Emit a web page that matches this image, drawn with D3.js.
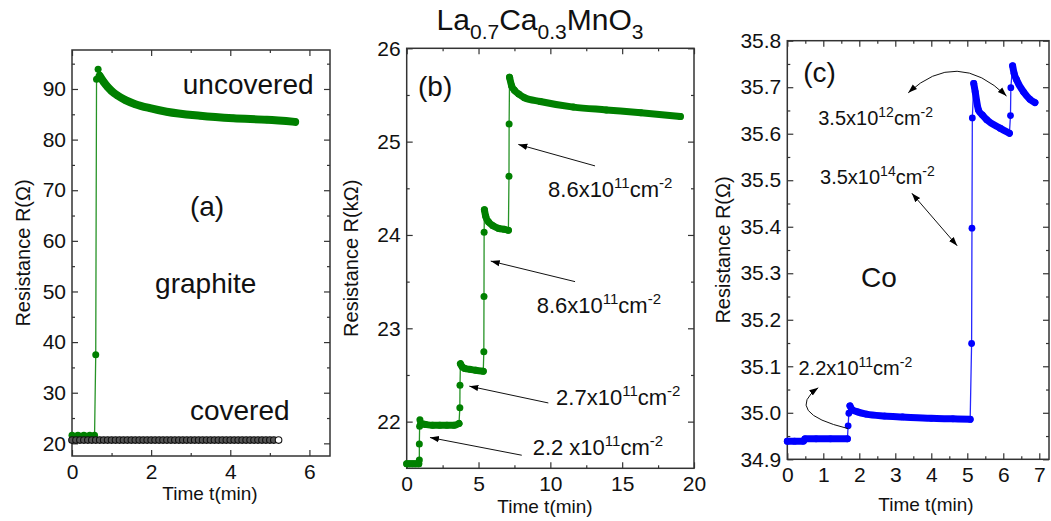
<!DOCTYPE html>
<html>
<head>
<meta charset="utf-8">
<script src="https://cdn.jsdelivr.net/npm/d3@7"></script>
<style>
body { margin:0; background:#fff; }
svg text { font-family: "Liberation Sans", Arial, sans-serif; }
</style>
</head>
<body>
<div class="canvas"></div>
<script>
// ---- Data (a) graphite ----
const aBaseT  = [0, 0.15, 0.3, 0.45, 0.57];
const aBaseR  = [21.6, 21.6, 21.6, 21.6, 21.6];
const aJumpT  = [0.6, 0.62, 0.66];
const aJumpR  = [37.5, 91.9, 93.9];
const aDecayT = [0.7, 0.8, 0.9, 1.0, 1.15, 1.35, 1.6, 1.97, 2.39, 3.24, 4.08, 4.92, 5.64];
const aDecayR = [92.6, 91.4, 90.4, 89.6, 88.7, 87.8, 87.0, 86.2, 85.5, 84.7, 84.2, 83.9, 83.5];
const aCovT = [0, 0.1, 0.2, 0.3, 0.4, 0.5, 0.6, 0.7, 0.8, 0.9, 1.0, 1.1, 1.2, 1.3, 1.4, 1.5, 1.6, 1.7,
  1.8, 1.9, 2.0, 2.1, 2.2, 2.3, 2.4, 2.5, 2.6, 2.7, 2.8, 2.9, 3.0, 3.1, 3.2, 3.3, 3.4, 3.5, 3.6,
  3.7, 3.8, 3.9, 4.0, 4.1, 4.2, 4.3, 4.4, 4.5, 4.6, 4.7, 4.8, 4.9, 5.0, 5.1, 5.22];
const aCovR = [20.65, 20.65, 20.65, 20.65, 20.65, 20.65, 20.65, 20.65, 20.65, 20.65, 20.65, 20.65,
  20.65, 20.65, 20.65, 20.65, 20.65, 20.65, 20.65, 20.65, 20.65, 20.65, 20.65, 20.65, 20.65, 20.65,
  20.65, 20.65, 20.65, 20.65, 20.65, 20.65, 20.65, 20.65, 20.65, 20.65, 20.65, 20.65, 20.65, 20.65,
  20.65, 20.65, 20.65, 20.65, 20.65, 20.65, 20.65, 20.65, 20.65, 20.65, 20.65, 20.65, 20.65];

// ---- Data (b) La0.7Ca0.3MnO3 ----
const bBaseT  = [0, 0.2, 0.4, 0.6, 0.84];
const bBaseR  = [21.55, 21.55, 21.55, 21.55, 21.55];
const bJump1T = [0.88, 0.88, 0.9, 0.92];
const bJump1R = [21.59, 21.76, 21.95, 22.02];
const bStep1T = [0.98, 1.3, 1.8, 2.3, 2.8, 3.3, 3.64];
const bStep1R = [21.98, 21.97, 21.96, 21.96, 21.96, 21.96, 21.98];
const bJump2T = [3.7, 3.71];
const bJump2R = [22.15, 22.39];
const bStep2T = [3.74, 3.85, 4.05, 4.4, 4.8, 5.33];
const bStep2R = [22.62, 22.59, 22.57, 22.56, 22.55, 22.54];
const bJump3T = [5.37, 5.38, 5.39];
const bJump3R = [22.75, 23.34, 24.03];
const bStep3T = [5.41, 5.5, 5.7, 6.0, 6.4, 6.8, 7.08];
const bStep3R = [24.27, 24.2, 24.14, 24.1, 24.07, 24.06, 24.05];
const bJump4T = [7.12, 7.13];
const bJump4R = [24.63, 25.19];
const bStep4T = [7.16, 7.3, 7.5, 7.8, 8.2, 9.3, 11.6, 13.9, 16.3, 19.05];
const bStep4R = [25.69, 25.6, 25.55, 25.51, 25.47, 25.43, 25.37, 25.34, 25.31, 25.27];

// ---- Data (c) Co ----
const cBaseT  = [0, 0.2, 0.45, 0.49, 0.8, 1.2, 1.67];
const cBaseR  = [34.939, 34.939, 34.939, 34.944, 34.944, 34.944, 34.944];
const cJump1T = [1.69, 1.71];
const cJump1R = [34.972, 34.999];
const cStep1T = [1.74, 1.8, 1.95, 2.2, 2.7, 3.2, 4.0, 4.6, 5.08];
const cStep1R = [35.015, 35.007, 35.002, 34.997, 34.993, 34.991, 34.988, 34.987, 34.986];
const cJump2T = [5.12, 5.13, 5.14];
const cJump2R = [35.149, 35.397, 35.634];
const cStep2T = [5.18, 5.22, 5.31, 5.42, 5.54, 5.91, 6.17];
const cStep2R = [35.708, 35.69, 35.651, 35.64, 35.63, 35.612, 35.601];
const cJump3T = [6.2, 6.21];
const cJump3R = [35.639, 35.699];
const cStep3T = [6.26, 6.3, 6.37, 6.56, 6.74, 6.88];
const cStep3R = [35.746, 35.73, 35.716, 35.69, 35.674, 35.667];

// ---- Ticks ----
const aXTicks = [0, 2, 4, 6],  aXMinor = [1, 3, 5];
const aYTicks = [20, 30, 40, 50, 60, 70, 80, 90], aYMinor = [25, 35, 45, 55, 65, 75, 85, 95];
const bXTicks = [0, 5, 10, 15, 20], bXMinor = [2.5, 7.5, 12.5, 17.5];
const bYTicks = [22, 23, 24, 25, 26], bYMinor = [22.5, 23.5, 24.5, 25.5];
const cXTicks = [0, 1, 2, 3, 4, 5, 6, 7], cXMinor = [0.5, 1.5, 2.5, 3.5, 4.5, 5.5, 6.5];
const cYTicks = [34.9, 35.0, 35.1, 35.2, 35.3, 35.4, 35.5, 35.6, 35.7, 35.8];
const cYMinor = [34.95, 35.05, 35.15, 35.25, 35.35, 35.45, 35.55, 35.65, 35.75];

const GREEN = '#008000';
const BLUE = '#0000ff';

const svg = d3.select('.canvas')
    .append('svg')
    .attr('width', 1051)
    .attr('height', 521);

svg.append('rect').attr('width', 1051).attr('height', 521).attr('fill', '#fff');

// arrow head
svg.append('defs').append('marker')
    .attr('id', 'arrow')
    .attr('viewBox', '0 0 10 10')
    .attr('refX', 10).attr('refY', 5)
    .attr('markerWidth', 9).attr('markerHeight', 9)
    .attr('markerUnits', 'userSpaceOnUse')
    .attr('orient', 'auto-start-reverse')
    .append('path')
    .attr('d', 'M0,1.5 L10,5 L0,8.5 Z')
    .attr('fill', '#000');

// Panel with boxed axes and inward ticks
function makePanel(p) {
    const x = d3.scaleLinear().domain(p.xDomain).range([p.left, p.right]);
    const y = d3.scaleLinear().domain(p.yDomain).range([p.bottom, p.top]);
    const g = svg.append('g');
    const axes = g.append('g');

    axes.append('g').attr('transform', `translate(0,${p.bottom})`)
        .call(d3.axisBottom(x).tickValues(p.xTicks).tickSize(-6).tickPadding(8).tickFormat(p.xFormat));
    axes.append('g').attr('transform', `translate(0,${p.bottom})`)
        .call(d3.axisBottom(x).tickValues(p.xMinor).tickSize(-3).tickFormat(''));
    axes.append('g').attr('transform', `translate(0,${p.top})`)
        .call(d3.axisTop(x).tickValues(p.xTicks).tickSize(-6).tickFormat(''));
    axes.append('g').attr('transform', `translate(0,${p.top})`)
        .call(d3.axisTop(x).tickValues(p.xMinor).tickSize(-3).tickFormat(''));

    axes.append('g').attr('transform', `translate(${p.left},0)`)
        .call(d3.axisLeft(y).tickValues(p.yTicks).tickSize(-6).tickPadding(6).tickFormat(p.yFormat));
    axes.append('g').attr('transform', `translate(${p.left},0)`)
        .call(d3.axisLeft(y).tickValues(p.yMinor).tickSize(-3).tickFormat(''));
    axes.append('g').attr('transform', `translate(${p.right},0)`)
        .call(d3.axisRight(y).tickValues(p.yTicks).tickSize(-6).tickFormat(''));
    axes.append('g').attr('transform', `translate(${p.right},0)`)
        .call(d3.axisRight(y).tickValues(p.yMinor).tickSize(-3).tickFormat(''));

    axes.selectAll('.domain').remove();
    axes.selectAll('.tick line').attr('stroke', '#333').attr('stroke-width', 1.2);
    axes.selectAll('.tick text').attr('font-size', 21).attr('fill', '#111');

    g.append('rect')
        .attr('x', p.left).attr('y', p.top)
        .attr('width', p.right - p.left).attr('height', p.bottom - p.top)
        .attr('fill', 'none').attr('stroke', '#333').attr('stroke-width', 1.5);

    // axis titles
    g.append('text')
        .attr('x', p.xTitleX).attr('y', p.xTitleY)
        .attr('text-anchor', 'middle').attr('font-size', 19).attr('fill', '#111')
        .text('Time t(min)');
    g.append('text')
        .attr('transform', `translate(${p.yTitleX},${(p.top + p.bottom) / 2}) rotate(-90)`)
        .attr('text-anchor', 'middle').attr('font-size', 20).attr('fill', '#111')
        .text(p.yTitle);

    return {x, y, g};
}

// Series: thin connecting line, thick bands for the dense parts, dots
function drawSeries(panel, segs, color, r) {
    const {x, y, g} = panel;
    const all = [];
    segs.forEach(s => s.t.forEach((t, i) => all.push([t, s.r[i]])));

    const thin = d3.line().x(d => x(d[0])).y(d => y(d[1]));
    g.append('path').datum(all)
        .attr('d', thin)
        .attr('fill', 'none').attr('stroke', color).attr('stroke-width', 1.3).attr('opacity', 0.85);

    const smooth = d3.line().x(d => x(d[0])).y(d => y(d[1])).curve(d3.curveMonotoneX);
    segs.filter(s => s.band).forEach(s => {
        g.append('path').datum(s.t.map((t, i) => [t, s.r[i]]))
            .attr('d', smooth)
            .attr('fill', 'none').attr('stroke', color)
            .attr('stroke-width', s.band)
            .attr('stroke-linecap', 'round').attr('stroke-linejoin', 'round');
    });

    g.selectAll(null).data(all).enter().append('circle')
        .attr('cx', d => x(d[0])).attr('cy', d => y(d[1]))
        .attr('r', r).attr('fill', color);
}

// text with superscripts: parts = [[text, isSup], ...]
function supText(g, px, py, parts, size, supSize) {
    const t = g.append('text').attr('x', px).attr('y', py).attr('font-size', size).attr('fill', '#111');
    let shift = 0;
    parts.forEach(([s, sup]) => {
        const target = sup ? -Math.round(size * 0.42) : 0;
        t.append('tspan').attr('dy', target - shift).attr('font-size', sup ? supSize : size).text(s);
        shift = target;
    });
}

function label(g, px, py, txt, size) {
    g.append('text').attr('x', px).attr('y', py).attr('font-size', size).attr('fill', '#111').text(txt);
}

function arrow(g, d) {
    g.append('path').attr('d', d)
        .attr('fill', 'none').attr('stroke', '#111').attr('stroke-width', 1)
        .attr('marker-end', 'url(#arrow)');
}

// ---------- Panel (a) ----------
const pa = makePanel({
    left: 72, right: 330, top: 50, bottom: 456,
    xDomain: [0, 6.52], yDomain: [17.5, 97.7],
    xTicks: aXTicks, xMinor: aXMinor, yTicks: aYTicks, yMinor: aYMinor,
    xFormat: d3.format('d'), yFormat: d3.format('d'),
    xTitleX: 210, xTitleY: 500, yTitleX: 30, yTitle: 'Resistance R(\u03A9)'
});

drawSeries(pa, [
    {t: aBaseT, r: aBaseR, band: 5},
    {t: aJumpT, r: aJumpR},
    {t: aDecayT, r: aDecayR, band: 8}
], GREEN, 3.5);

pa.g.selectAll(null).data(aCovT).enter().append('circle')
    .attr('cx', d => pa.x(d))
    .attr('cy', (d, i) => pa.y(aCovR[i]))
    .attr('r', 3.3)
    .attr('fill', (d, i) => i === aCovT.length - 1 ? '#fff' : '#555')
    .attr('stroke', '#111').attr('stroke-width', 1.1);

label(pa.g, pa.x(2.8), pa.y(89.0), 'uncovered', 28);
label(pa.g, pa.x(2.98), pa.y(64.9), '(a)', 28);
label(pa.g, pa.x(2.1), pa.y(49.7), 'graphite', 28);
label(pa.g, pa.x(2.98), pa.y(24.7), 'covered', 28);

// ---------- Panel (b) ----------
const pb = makePanel({
    left: 406.7, right: 694, top: 48.3, bottom: 468.3,
    xDomain: [0, 20], yDomain: [21.5, 26],
    xTicks: bXTicks, xMinor: bXMinor, yTicks: bYTicks, yMinor: bYMinor,
    xFormat: d3.format('d'), yFormat: d3.format('d'),
    xTitleX: 545, xTitleY: 513, yTitleX: 358, yTitle: 'Resistance R(k\u03A9)'
});

drawSeries(pb, [
    {t: bBaseT, r: bBaseR, band: 7},
    {t: bJump1T, r: bJump1R},
    {t: bStep1T, r: bStep1R, band: 7},
    {t: bJump2T, r: bJump2R},
    {t: bStep2T, r: bStep2R, band: 7},
    {t: bJump3T, r: bJump3R},
    {t: bStep3T, r: bStep3R, band: 7},
    {t: bJump4T, r: bJump4R},
    {t: bStep4T, r: bStep4R, band: 7}
], GREEN, 3.5);

// title
const title = svg.append('text').attr('x', 540).attr('y', 30)
    .attr('text-anchor', 'middle').attr('font-size', 30).attr('fill', '#111');
[['La', 0], ['0.7', 1], ['Ca', 0], ['0.3', 1], ['MnO', 0], ['3', 1]].reduce((shift, [s, sub]) => {
    const target = sub ? 9 : 0;
    title.append('tspan').attr('dy', target - shift).attr('font-size', sub ? 21 : 30).text(s);
    return target;
}, 0);

label(pb.g, pb.x(0.79), pb.y(25.49), '(b)', 28);

supText(pb.g, pb.x(9.84), pb.y(24.41), [['8.6x10'], ['11', 1], ['cm'], ['-2', 1]], 22, 15);
supText(pb.g, pb.x(9.05), pb.y(23.16), [['8.6x10'], ['11', 1], ['cm'], ['-2', 1]], 22, 15);
supText(pb.g, pb.x(10.4), pb.y(22.18), [['2.7x10'], ['11', 1], ['cm'], ['-2', 1]], 22, 15);
supText(pb.g, pb.x(8.77), pb.y(21.64), [['2.2 x10'], ['11', 1], ['cm'], ['-2', 1]], 22, 15);

arrow(pb.g, `M${pb.x(13.11)},${pb.y(24.74)}L${pb.x(7.77)},${pb.y(24.97)}`);
arrow(pb.g, `M${pb.x(11.72)},${pb.y(23.50)}L${pb.x(5.85)},${pb.y(23.72)}`);
arrow(pb.g, `M${pb.x(9.86)},${pb.y(22.20)}L${pb.x(4.36)},${pb.y(22.38)}`);
arrow(pb.g, `M${pb.x(8.01)},${pb.y(21.64)}L${pb.x(1.62)},${pb.y(21.83)}`);

// ---------- Panel (c) ----------
const pc = makePanel({
    left: 787.3, right: 1049, top: 40.7, bottom: 459.3,
    xDomain: [0, 7.27], yDomain: [34.9, 35.8],
    xTicks: cXTicks, xMinor: cXMinor, yTicks: cYTicks, yMinor: cYMinor,
    xFormat: d3.format('d'), yFormat: d3.format('.1f'),
    xTitleX: 926, xTitleY: 511, yTitleX: 730, yTitle: 'Resistance R(\u03A9)'
});

drawSeries(pc, [
    {t: cBaseT, r: cBaseR, band: 7},
    {t: cJump1T, r: cJump1R},
    {t: cStep1T, r: cStep1R, band: 7},
    {t: cJump2T, r: cJump2R},
    {t: cStep2T, r: cStep2R, band: 7},
    {t: cJump3T, r: cJump3R},
    {t: cStep3T, r: cStep3R, band: 7}
], BLUE, 3.4);

label(pc.g, pc.x(0.44), pc.y(35.712), '(c)', 28);
label(pc.g, pc.x(2.05), pc.y(35.27), 'Co', 28);
supText(pc.g, pc.x(0.86), pc.y(35.619), [['3.5x10'], ['12', 1], ['cm'], ['-2', 1]], 20, 14);
supText(pc.g, pc.x(0.91), pc.y(35.492), [['3.5x10'], ['14', 1], ['cm'], ['-2', 1]], 20, 14);
supText(pc.g, pc.x(0.31), pc.y(35.081), [['2.2x10'], ['11', 1], ['cm'], ['-2', 1]], 20, 14);

// double-headed curved arrow between the two upper steps
pc.g.append('path')
    .attr('d', `M${pc.x(3.36)},${pc.y(35.688)}Q${pc.x(4.71)},${pc.y(35.784)} ${pc.x(6.09)},${pc.y(35.681)}`)
    .attr('fill', 'none').attr('stroke', '#111').attr('stroke-width', 1)
    .attr('marker-start', 'url(#arrow)').attr('marker-end', 'url(#arrow)');

// double-headed straight arrow
pc.g.append('path')
    .attr('d', `M${pc.x(3.46)},${pc.y(35.472)}L${pc.x(4.72)},${pc.y(35.359)}`)
    .attr('fill', 'none').attr('stroke', '#111').attr('stroke-width', 1)
    .attr('marker-start', 'url(#arrow)').attr('marker-end', 'url(#arrow)');

// curved arrow from first step to its label
arrow(pc.g, `M${pc.x(1.69)},${pc.y(34.966)}Q${pc.x(-0.11)},${pc.y(35.0)} ${pc.x(0.86)},${pc.y(35.054)}`);
</script>
</body>
</html>
